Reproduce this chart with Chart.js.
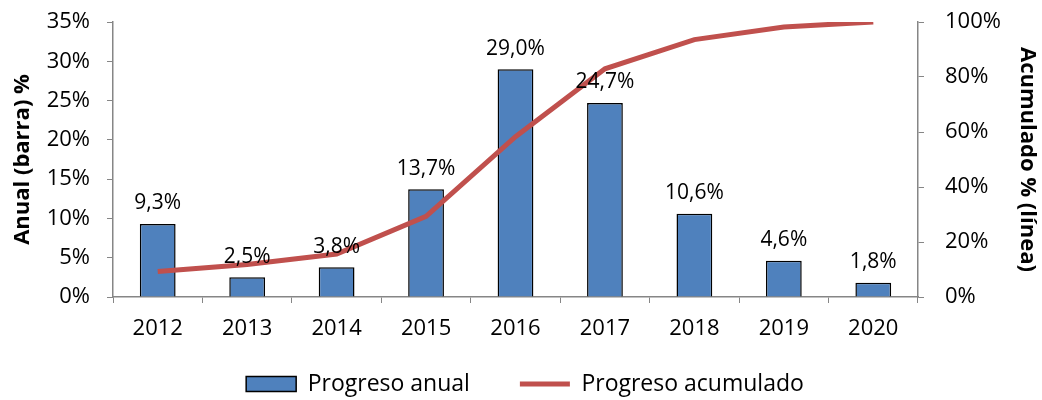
<!DOCTYPE html>
<html>
<head>
<meta charset="utf-8">
<script src="https://cdn.jsdelivr.net/npm/chart.js@4/dist/chart.umd.min.js"></script>
<style>
  body { margin: 0; background: #fff; }
  #wrap { width: 1042px; height: 400px; }
</style>
</head>
<body>
<div id="wrap"><canvas id="chart" width="1042" height="400"></canvas></div>
<script>
const years = ['2012', '2013', '2014', '2015', '2016', '2017', '2018', '2019', '2020'];
const annual = [9.3, 2.5, 3.8, 13.7, 29.0, 24.7, 10.6, 4.6, 1.8];
const cumulative = [9.3, 11.8, 15.6, 29.3, 58.3, 83.0, 93.6, 98.2, 100.0];
const leftTicks = [0, 5, 10, 15, 20, 25, 30, 35];
const rightTicks = [0, 20, 40, 60, 80, 100];

const FONT = 'Open Sans';
const BLUE = '#4F81BD';
const RED = '#C0504D';
const AXIS = '#868686';
const LEGEND_PAD = 50;
const LEGEND_FONT = 23;

// value labels above the bars, es-ES style with comma
const barLabels = {
    id: 'barLabels',
    afterLayout(chart) {
        // pull the legend row up so it sits just under the year labels
        const lg = chart.legend;
        const h = lg.bottom - lg.top;
        lg.top = 384 - LEGEND_PAD - LEGEND_FONT / 2;
        lg.bottom = lg.top + h;
    },
    afterDatasetsDraw(chart) {
        const ctx = chart.ctx;
        const meta = chart.getDatasetMeta(0);
        ctx.save();
        ctx.font = '21px "' + FONT + '"';
        ctx.fillStyle = '#000';
        ctx.textAlign = 'center';
        ctx.textBaseline = 'bottom';
        meta.data.forEach((bar, i) => {
            const txt = annual[i].toFixed(1).replace('.', ',') + '%';
            ctx.fillText(txt, bar.x, bar.y - 10);
        });
        ctx.restore();
    }
};

const ctx = document.getElementById('chart').getContext('2d');
new Chart(ctx, {
    data: {
        labels: years,
        datasets: [
            {
                type: 'bar',
                label: 'Progreso anual',
                data: annual,
                yAxisID: 'y',
                backgroundColor: BLUE,
                borderColor: '#000',
                borderWidth: 1.5,
                barPercentage: 0.4,
                categoryPercentage: 1,
                order: 2
            },
            {
                type: 'line',
                label: 'Progreso acumulado',
                data: cumulative,
                yAxisID: 'y1',
                borderColor: RED,
                backgroundColor: RED,
                borderWidth: 5,
                pointRadius: 0,
                tension: 0,
                order: 1
            }
        ]
    },
    options: {
        responsive: false,
        animation: false,
        devicePixelRatio: 1,
        layout: { padding: { top: 22, left: 8, right: 0, bottom: -30 } },
        plugins: {
            tooltip: { enabled: false },
            legend: {
                position: 'bottom',
                labels: {
                    usePointStyle: true,
                    pointStyleWidth: 50,
                    boxHeight: 15,
                    padding: LEGEND_PAD,
                    color: '#000',
                    font: { family: FONT, size: LEGEND_FONT },
                    generateLabels(chart) {
                        const items = Chart.defaults.plugins.legend.labels.generateLabels(chart);
                        items.sort((a, b) => a.datasetIndex - b.datasetIndex);
                        items.forEach(it => {
                            if (it.datasetIndex === 0) {
                                it.pointStyle = 'rect';
                                it.fillStyle = BLUE;
                                it.strokeStyle = '#000';
                                it.lineWidth = 1.5;
                            } else {
                                it.pointStyle = 'line';
                                it.strokeStyle = RED;
                                it.lineWidth = 5;
                            }
                        });
                        return items;
                    }
                }
            }
        },
        scales: {
            x: {
                offset: true,
                grid: { display: true, drawOnChartArea: false, offset: true, color: AXIS, tickLength: 6 },
                border: { color: AXIS, width: 1.5 },
                ticks: { color: '#000', padding: 13, font: { family: FONT, size: 22 } },
                afterFit(scale) { scale.height = 50; }
            },
            y: {
                position: 'left',
                min: 0,
                max: 35,
                afterBuildTicks(scale) { scale.ticks = leftTicks.map(v => ({ value: v })); },
                grid: { display: true, drawOnChartArea: false, color: AXIS, tickLength: 6 },
                border: { color: AXIS, width: 1.5 },
                ticks: { color: '#000', padding: 17, font: { family: FONT, size: 22 }, callback: v => v + '%' },
                title: { display: true, text: 'Anual (barra) %', color: '#000', font: { family: FONT, size: 22, weight: 'bold' }, padding: 2 },
                afterFit(scale) { scale.width = 105; scale.paddingTop = 12; scale.paddingBottom = 12; }
            },
            y1: {
                position: 'right',
                min: 0,
                max: 100,
                afterBuildTicks(scale) { scale.ticks = rightTicks.map(v => ({ value: v })); },
                grid: { display: true, drawOnChartArea: false, color: AXIS, tickLength: 6 },
                border: { color: AXIS, width: 1.5 },
                ticks: { color: '#000', padding: 21, font: { family: FONT, size: 22 }, callback: v => v + '%' },
                title: { display: true, text: 'Acumulado % (línea)', color: '#000', font: { family: FONT, size: 22, weight: 'bold' }, padding: 2 },
                afterFit(scale) { scale.width = 124; scale.paddingTop = 12; scale.paddingBottom = 12; }
            }
        }
    },
    plugins: [barLabels]
});
</script>
</body>
</html>
